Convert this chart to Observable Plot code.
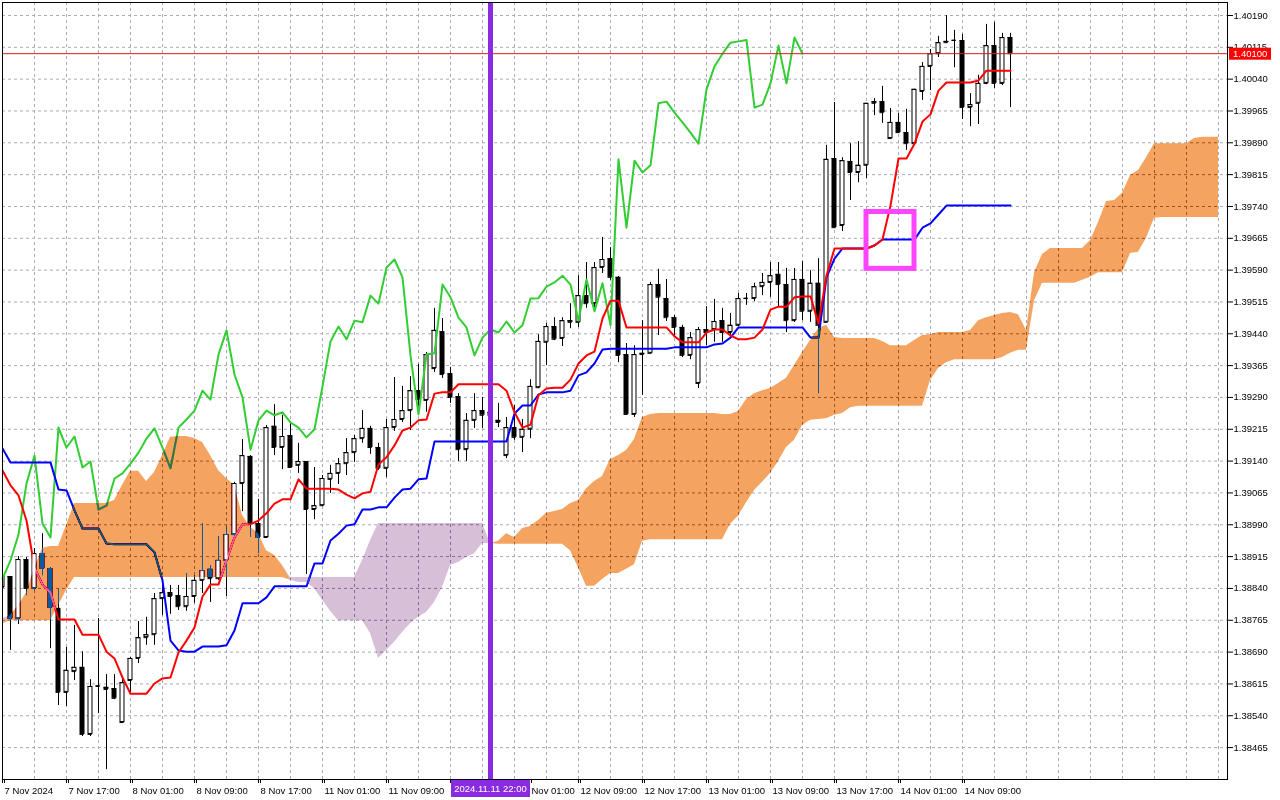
<!DOCTYPE html>
<html><head><meta charset="utf-8">
<script src="https://cdn.jsdelivr.net/npm/d3@7"></script>
<script src="https://cdn.jsdelivr.net/npm/@observablehq/plot@0.6"></script>
<style>
html,body{margin:0;padding:0;background:#fff;}
#chart{width:1280px;height:800px;overflow:hidden;}
</style></head><body><div id="chart"></div>
<script>
// ---- Data (H1 bars; bar index 0 = 7 Nov 2024 09:00) ----
const open = [
1.38842,1.38868,1.38769,1.38908,1.38840,1.38922,1.38887,1.38793,1.38595,1.38644,
1.38654,1.38496,1.38609,1.38607,1.38604,1.38524,1.38623,1.38675,1.38724,1.38731,
1.38816,1.38830,1.38823,1.38797,1.38821,1.38859,1.38885,1.38863,1.38906,1.38967,
1.39087,1.39151,1.38993,1.38960,1.39222,1.39172,1.39200,1.39130,1.39139,1.39026,
1.39035,1.39097,1.39111,1.39134,1.39160,1.39193,1.39217,1.39172,1.39123,1.39219,
1.39238,1.39259,1.39306,1.39283,1.39358,1.39445,1.39346,1.39292,1.39167,1.39236,
1.39259,1.39248,1.39236,1.39153,1.39219,1.39196,1.39215,1.39313,1.39420,1.39457,
1.39429,1.39471,1.39467,1.39530,1.39511,1.39596,1.39617,1.39573,1.39391,1.39250,
1.39391,1.39394,1.39556,1.39523,1.39478,1.39455,1.39389,1.39323,1.39450,1.39450,
1.39471,1.39443,1.39460,1.39523,1.39523,1.39551,1.39561,1.39580,1.39556,1.39471,
1.39568,1.39493,1.39559,1.39467,1.39853,1.39695,1.39846,1.39820,1.39837,1.39983,
1.39987,1.39900,1.39938,1.39914,1.39888,1.40011,1.40070,1.40100,1.40126,1.40131,
1.40131,1.39973,1.39983,1.40030,1.40119,1.40030,1.40138];
const high = [
1.38878,1.38868,1.38915,1.38913,1.38934,1.38969,1.38889,1.38838,1.38701,1.38753,
1.38691,1.38625,1.38769,1.38637,1.38637,1.38633,1.38677,1.38762,1.38772,1.38828,
1.38847,1.38847,1.38847,1.38875,1.38870,1.38993,1.38894,1.38962,1.38984,1.39090,
1.39191,1.39153,1.39050,1.39224,1.39273,1.39248,1.39231,1.39182,1.39139,1.39125,
1.39106,1.39130,1.39146,1.39193,1.39200,1.39259,1.39222,1.39182,1.39238,1.39337,
1.39316,1.39339,1.39368,1.39396,1.39500,1.39476,1.39361,1.39299,1.39252,1.39299,
1.39290,1.39283,1.39276,1.39243,1.39271,1.39238,1.39332,1.39438,1.39464,1.39478,
1.39478,1.39511,1.39577,1.39608,1.39608,1.39667,1.39643,1.39575,1.39417,1.39412,
1.39471,1.39561,1.39592,1.39568,1.39483,1.39460,1.39443,1.39455,1.39504,1.39521,
1.39500,1.39488,1.39535,1.39535,1.39559,1.39582,1.39608,1.39608,1.39594,1.39594,
1.39610,1.39589,1.39617,1.39884,1.39985,1.39855,1.39888,1.39893,1.39983,1.39994,
1.40023,1.39971,1.39959,1.39969,1.40016,1.40079,1.40110,1.40141,1.40190,1.40155,
1.40145,1.40006,1.40049,1.40169,1.40174,1.40148,1.40148];
const low = [
1.38830,1.38694,1.38755,1.38823,1.38835,1.38870,1.38698,1.38564,1.38562,1.38623,
1.38491,1.38491,1.38545,1.38413,1.38578,1.38522,1.38592,1.38663,1.38706,1.38706,
1.38776,1.38779,1.38788,1.38786,1.38805,1.38828,1.38807,1.38859,1.38821,1.38960,
1.39021,1.38960,1.38922,1.38960,1.39153,1.39120,1.39123,1.39111,1.38873,1.39002,
1.39033,1.39064,1.39085,1.39106,1.39137,1.39182,1.39156,1.39118,1.39101,1.39210,
1.39231,1.39212,1.39264,1.39255,1.39349,1.39335,1.39276,1.39139,1.39139,1.39217,
1.39217,1.39224,1.39219,1.39146,1.39189,1.39160,1.39193,1.39311,1.39365,1.39424,
1.39410,1.39452,1.39455,1.39500,1.39490,1.39582,1.39566,1.39372,1.39248,1.39243,
1.39295,1.39394,1.39436,1.39469,1.39434,1.39384,1.39379,1.39311,1.39412,1.39420,
1.39420,1.39431,1.39457,1.39507,1.39516,1.39530,1.39526,1.39502,1.39443,1.39467,
1.39471,1.39467,1.39299,1.39467,1.39688,1.39681,1.39754,1.39796,1.39806,1.39954,
1.39936,1.39898,1.39912,1.39872,1.39888,1.39990,1.40013,1.40091,1.40124,1.40067,
1.39945,1.39928,1.39933,1.40027,1.40018,1.40025,1.39973];
const close = [
1.38868,1.38769,1.38908,1.38840,1.38922,1.38887,1.38795,1.38595,1.38647,1.38654,
1.38496,1.38609,1.38611,1.38602,1.38581,1.38618,1.38675,1.38724,1.38731,1.38816,
1.38830,1.38821,1.38797,1.38821,1.38859,1.38882,1.38863,1.38906,1.38967,1.39087,
1.39153,1.38993,1.38960,1.39219,1.39172,1.39198,1.39125,1.39139,1.39026,1.39035,
1.39099,1.39111,1.39134,1.39160,1.39193,1.39217,1.39172,1.39123,1.39219,1.39238,
1.39259,1.39306,1.39285,1.39391,1.39448,1.39344,1.39290,1.39167,1.39236,1.39259,
1.39248,1.39255,1.39231,1.39219,1.39196,1.39215,1.39316,1.39422,1.39457,1.39427,
1.39471,1.39467,1.39530,1.39511,1.39596,1.39615,1.39573,1.39389,1.39250,1.39391,
1.39394,1.39556,1.39526,1.39478,1.39455,1.39389,1.39431,1.39450,1.39443,1.39469,
1.39443,1.39460,1.39523,1.39524,1.39551,1.39561,1.39577,1.39556,1.39471,1.39568,
1.39493,1.39559,1.39460,1.39851,1.39690,1.39848,1.39820,1.39837,1.39983,1.39987,
1.39961,1.39938,1.39914,1.39888,1.40016,1.40070,1.40100,1.40126,1.40129,1.40132,
1.39973,1.39980,1.40030,1.40119,1.40030,1.40138,1.40100];
const tenkan = [
1.39118,1.39083,1.39059,1.39000,1.38889,1.38849,1.38830,1.38767,1.38767,1.38767,
1.38731,1.38731,1.38731,1.38691,1.38675,1.38630,1.38592,1.38592,1.38592,1.38616,
1.38628,1.38630,1.38689,1.38717,1.38748,1.38821,1.38849,1.38849,1.38906,1.38960,
1.38991,1.38991,1.39000,1.39017,1.39040,1.39050,1.39050,1.39097,1.39075,1.39075,
1.39075,1.39075,1.39073,1.39061,1.39052,1.39064,1.39068,1.39132,1.39149,1.39177,
1.39212,1.39219,1.39236,1.39238,1.39299,1.39302,1.39302,1.39321,1.39321,1.39321,
1.39321,1.39321,1.39321,1.39306,1.39255,1.39219,1.39226,1.39295,1.39311,1.39313,
1.39313,1.39332,1.39370,1.39389,1.39398,1.39476,1.39518,1.39518,1.39455,1.39455,
1.39455,1.39455,1.39455,1.39455,1.39434,1.39420,1.39420,1.39420,1.39443,1.39450,
1.39450,1.39436,1.39427,1.39427,1.39431,1.39450,1.39497,1.39504,1.39504,1.39526,
1.39528,1.39528,1.39464,1.39577,1.39641,1.39641,1.39641,1.39641,1.39641,1.39648,
1.39662,1.39742,1.39853,1.39853,1.39888,1.39940,1.39957,1.40013,1.40032,1.40032,
1.40032,1.40032,1.40037,1.40060,1.40060,1.40060,1.40060];
const kijun = [
1.39170,1.39137,1.39137,1.39137,1.39137,1.39137,1.39137,1.39073,1.39071,1.39024,
1.38981,1.38981,1.38981,1.38946,1.38944,1.38944,1.38944,1.38944,1.38944,1.38925,
1.38859,1.38717,1.38694,1.38691,1.38691,1.38703,1.38703,1.38703,1.38706,1.38741,
1.38805,1.38805,1.38805,1.38819,1.38845,1.38845,1.38845,1.38845,1.38845,1.38899,
1.38899,1.38953,1.38969,1.38988,1.38991,1.39026,1.39026,1.39031,1.39031,1.39054,
1.39073,1.39075,1.39097,1.39099,1.39186,1.39186,1.39186,1.39186,1.39186,1.39186,
1.39186,1.39186,1.39186,1.39186,1.39252,1.39271,1.39271,1.39297,1.39302,1.39302,
1.39302,1.39306,1.39342,1.39349,1.39370,1.39403,1.39405,1.39405,1.39405,1.39405,
1.39405,1.39405,1.39405,1.39405,1.39408,1.39408,1.39408,1.39408,1.39408,1.39415,
1.39417,1.39431,1.39455,1.39455,1.39455,1.39455,1.39455,1.39455,1.39455,1.39455,
1.39455,1.39431,1.39431,1.39573,1.39617,1.39641,1.39641,1.39641,1.39641,1.39648,
1.39662,1.39662,1.39662,1.39662,1.39662,1.39690,1.39700,1.39721,1.39742,1.39742,
1.39742,1.39742,1.39742,1.39742,1.39742,1.39742,1.39742];
// Senkou spans as plotted (already shifted 26 bars forward), bar 0..152
const spanA = [
1.38757,1.38776,1.38800,1.38830,1.38887,1.38934,1.38939,1.38939,1.38988,1.39040,
1.39040,1.39040,1.39040,1.39040,1.39047,1.39083,1.39116,1.39116,1.39092,1.39113,
1.39153,1.39196,1.39198,1.39198,1.39193,1.39184,1.39153,1.39118,1.39099,1.39083,
1.39012,1.38984,1.38969,1.38929,1.38918,1.38894,1.38859,1.38854,1.38854,1.38840,
1.38812,1.38786,1.38764,1.38764,1.38764,1.38764,1.38734,1.38675,1.38694,1.38713,
1.38736,1.38757,1.38772,1.38783,1.38807,1.38842,1.38894,1.38901,1.38913,1.38922,
1.38946,1.38946,1.38951,1.38969,1.38960,1.38981,1.38986,1.39000,1.39017,1.39021,
1.39026,1.39040,1.39047,1.39075,1.39092,1.39104,1.39144,1.39153,1.39165,1.39191,
1.39243,1.39250,1.39252,1.39252,1.39252,1.39252,1.39252,1.39252,1.39252,1.39252,
1.39250,1.39250,1.39257,1.39285,1.39299,1.39306,1.39311,1.39323,1.39335,1.39365,
1.39396,1.39424,1.39452,1.39460,1.39431,1.39429,1.39429,1.39429,1.39429,1.39429,
1.39422,1.39412,1.39412,1.39412,1.39424,1.39436,1.39438,1.39443,1.39443,1.39443,
1.39443,1.39448,1.39471,1.39478,1.39483,1.39488,1.39490,1.39485,1.39448,1.39584,
1.39627,1.39641,1.39641,1.39641,1.39641,1.39641,1.39660,1.39702,1.39752,1.39754,
1.39771,1.39813,1.39825,1.39855,1.39888,1.39888,1.39888,1.39888,1.39888,1.39900,
1.39903,1.39903,1.39903];
const spanB = [
1.38769,1.38764,1.38764,1.38764,1.38764,1.38764,1.38764,1.38800,1.38835,1.38866,
1.38866,1.38866,1.38866,1.38866,1.38866,1.38866,1.38866,1.38866,1.38866,1.38866,
1.38866,1.38866,1.38866,1.38866,1.38866,1.38866,1.38866,1.38866,1.38866,1.38866,
1.38866,1.38866,1.38866,1.38866,1.38866,1.38866,1.38866,1.38866,1.38866,1.38866,
1.38866,1.38866,1.38866,1.38866,1.38866,1.38906,1.38953,1.38993,1.38993,1.38993,
1.38993,1.38993,1.38993,1.38993,1.38993,1.38993,1.38993,1.38993,1.38993,1.38993,
1.38993,1.38946,1.38944,1.38944,1.38944,1.38944,1.38944,1.38944,1.38944,1.38944,
1.38944,1.38929,1.38889,1.38845,1.38845,1.38861,1.38875,1.38875,1.38885,1.38896,
1.38951,1.38955,1.38955,1.38955,1.38955,1.38955,1.38955,1.38955,1.38955,1.38955,
1.38955,1.38991,1.39010,1.39042,1.39071,1.39090,1.39111,1.39139,1.39172,1.39189,
1.39224,1.39236,1.39238,1.39240,1.39248,1.39252,1.39266,1.39269,1.39269,1.39269,
1.39269,1.39269,1.39269,1.39269,1.39269,1.39269,1.39330,1.39358,1.39372,1.39379,
1.39379,1.39379,1.39379,1.39379,1.39379,1.39384,1.39394,1.39401,1.39401,1.39518,
1.39559,1.39559,1.39559,1.39559,1.39559,1.39566,1.39573,1.39584,1.39584,1.39584,
1.39584,1.39629,1.39632,1.39665,1.39712,1.39714,1.39714,1.39714,1.39714,1.39714,
1.39714,1.39714,1.39714];
const priceTicks = [1.40190,1.40115,1.40040,1.39965,1.39890,1.39815,1.39740,1.39665,1.39590,1.39515,1.39440,1.39365,
  1.39290,1.39215,1.39140,1.39065,1.38990,1.38915,1.38840,1.38765,1.38690,1.38615,1.38540,1.38465];
// time axis: tick bars and the labels visible on the axis
// (11 Nov 17:00 is hidden under the crosshair label; only the tail of "12 Nov 01:00" shows)
const tickMarkBars = [0,8,16,24,32,40,48,56,64,72,80,88,96,104,112,120];
const timeTickBars = [0,8,16,24,32,40,48,72,80,88,96,104,112,120];
const timeTickLabels = ["7 Nov 2024","7 Nov 17:00","8 Nov 01:00","8 Nov 09:00","8 Nov 17:00","11 Nov 01:00",
  "11 Nov 09:00","12 Nov 09:00","12 Nov 17:00","13 Nov 01:00","13 Nov 09:00",
  "13 Nov 17:00","14 Nov 01:00","14 Nov 09:00"];
const partialBar = 64, partialLabel = "Nov 01:00";
const crossBar = 61, crossLabel = "2024.11.11 22:00";
const bidPrice = 1.40100;
const boxBars = [108, 114], boxPrices = [1.39593, 1.39727];

// ---- Build ----
const hw = 0.3125;
const candles = close.map((c, i) => ({i, o: open[i], h: high[i], l: low[i], c, bull: c >= open[i]}));
const lines = close.map((c, i) => ({i, t: tenkan[i], k: kijun[i]}));
const chikou = close.slice(26).map((v, i) => ({i, v}));
const up = spanA.map((a, i) => ({i, y1: a, y2: a >= spanB[i] ? spanB[i] : a}));
const dn = spanA.map((a, i) => ({i, y1: a, y2: a < spanB[i] ? spanB[i] : a}));
const interiors = candles.filter(d => {
  if (!d.bull || d.i >= spanA.length) return false;
  const lo = Math.min(spanA[d.i], spanB[d.i]), hi = Math.max(spanA[d.i], spanB[d.i]);
  return Math.max(d.o, d.c) > lo && Math.min(d.o, d.c) < hi;
});
const labelOf = new Map(timeTickBars.map((b, j) => [b, timeTickLabels[j]]));
const gridColor = "#aaaabd";
const font = "'Liberation Sans', Arial, sans-serif";

const plot = Plot.plot({
  width: 1280, height: 800,
  marginTop: 2, marginRight: 53, marginBottom: 21, marginLeft: 2,
  style: {fontFamily: font, fontSize: "9.5px", color: "#000", background: "#fff", overflow: "visible"},
  x: {domain: [0, 153.125], axis: null},
  y: {domain: [1.383898, 1.402206], axis: null},
  marks: [
    Plot.frame({fill: "#fff", stroke: "none"}),
    Plot.ruleY(priceTicks, {stroke: gridColor, strokeDasharray: "3,3"}),
    Plot.ruleX(d3.range(4, 153, 4), {stroke: gridColor, strokeDasharray: "3,3"}),
    Plot.ruleX(candles, {x: "i", y1: "l", y2: "h", stroke: "#000", clip: true}),
    Plot.rect(candles.filter(d => !d.bull), {x1: d => d.i - hw, x2: d => d.i + hw, y1: "o", y2: "c", fill: "#000", clip: true}),
    Plot.rect(candles.filter(d => d.bull), {x1: d => d.i - hw, x2: d => d.i + hw, y1: "o", y2: "c", fill: "#fff", stroke: "#000", inset: 0.5, clip: true}),
    Plot.ruleY(candles, {y: "o", x1: d => d.i - hw, x2: d => d.i + hw - 0.1, stroke: "#000", clip: true}),
    Plot.ruleY(candles, {y: "c", x1: d => d.i - hw, x2: d => d.i + hw - 0.1, stroke: "#000", clip: true}),
    Plot.line(chikou, {x: "i", y: "v", stroke: "#32cd32", strokeWidth: 2}),
    Plot.line(lines, {x: "i", y: "k", stroke: "#0000ff", strokeWidth: 2, clip: true}),
    Plot.line(lines, {x: "i", y: "t", stroke: "#ff0000", strokeWidth: 2, clip: true}),
    Plot.areaY(up, {x: "i", y1: "y1", y2: "y2", fill: "#0b5b9f", mixBlendMode: "difference", clip: true}),
    Plot.areaY(dn, {x: "i", y1: "y1", y2: "y2", fill: "#274027", mixBlendMode: "difference", clip: true}),
    Plot.rect(interiors, {x1: d => d.i - hw, x2: d => d.i + hw, y1: "o", y2: "c", fill: "#fff", inset: 1}),
    Plot.ruleY([bidPrice], {stroke: "#d81c1c"}),
    Plot.ruleX([crossBar], {stroke: "#8a2be2", strokeWidth: 5}),
    Plot.rect([0], {x1: () => boxBars[0], x2: () => boxBars[1], y1: () => boxPrices[0], y2: () => boxPrices[1], fill: "none", stroke: "#ff44ff", strokeWidth: 5}),
    Plot.axisY(priceTicks, {anchor: "right", label: null, tickSize: 5, tickPadding: 1, tickFormat: d => d.toFixed(5)}),
    Plot.axisX(tickMarkBars, {anchor: "bottom", label: null, tickSize: 4, tickFormat: () => ""}),
    Plot.axisX(timeTickBars, {anchor: "bottom", label: null, tickSize: 4, tickPadding: 4, tickFormat: d => labelOf.get(d),
      textAnchor: "start", dx: 2}),
    Plot.axisX([partialBar], {anchor: "bottom", label: null, tickSize: 4, tickPadding: 4, tickFormat: () => partialLabel,
      textAnchor: "start", dx: 17}),
    Plot.frame({stroke: "#000"})
  ]
});
document.getElementById("chart").appendChild(plot);

const svg = d3.select(plot);
svg.selectAll('g[aria-label="area"]').style("mix-blend-mode", "difference");
const xs = plot.scale("x"), ys = plot.scale("y");
const g = svg.append("g").attr("font-family", font).attr("font-size", "9.5px");
const cx = xs.apply(crossBar) + 0.5;
g.append("rect").attr("x", cx - 39.5).attr("y", 780).attr("width", 79).attr("height", 17).attr("fill", "#8a2be2");
g.append("text").attr("x", cx).attr("y", 789).attr("dy", "0.35em").attr("text-anchor", "middle").attr("fill", "#fff").text(crossLabel);
const by = ys.apply(bidPrice) + 0.5;
g.append("rect").attr("x", 1229).attr("y", by - 6).attr("width", 42).attr("height", 12).attr("fill", "#ff0000");
g.append("text").attr("x", 1233).attr("y", by).attr("dy", "0.35em").attr("text-anchor", "start").attr("fill", "#fff").text(bidPrice.toFixed(5));
</script>
</body></html>
